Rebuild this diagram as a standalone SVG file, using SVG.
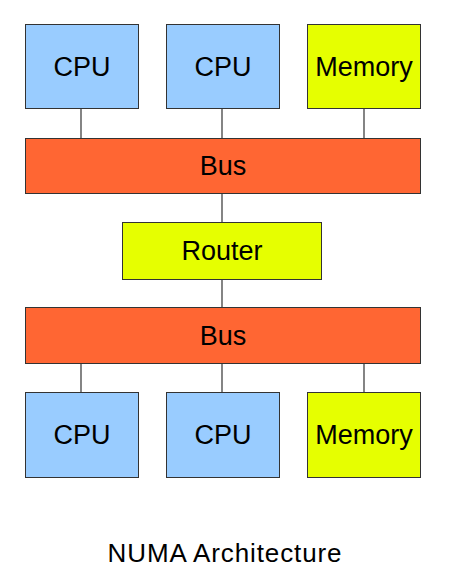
<svg xmlns="http://www.w3.org/2000/svg" width="467" height="582" viewBox="0 0 467 582">
<style>
.cpu{fill:#99ccff;stroke:#333;stroke-width:1}
.mem{fill:#e6ff00;stroke:#333;stroke-width:1}
.bus{fill:#ff6633;stroke:#333;stroke-width:1}
.lbl{font-family:"Liberation Sans",Arial,sans-serif;font-size:27px;fill:#000;text-anchor:middle;dominant-baseline:central}
.conn line{stroke:#333;stroke-width:1.2}
</style>
<rect width="467" height="582" fill="#fff"/>
<g id="connectors" class="conn">
<line x1="81" y1="108" x2="81" y2="138"/>
<line x1="222" y1="108" x2="222" y2="138"/>
<line x1="364" y1="108" x2="364" y2="138"/>
<line x1="222" y1="193" x2="222" y2="222"/>
<line x1="222" y1="279" x2="222" y2="307"/>
<line x1="81" y1="364" x2="81" y2="392"/>
<line x1="222" y1="364" x2="222" y2="392"/>
<line x1="364" y1="364" x2="364" y2="392"/>
</g>
<g id="cpu1"><rect class="cpu" x="25.5" y="24.5" width="113" height="84"/><text class="lbl" x="82" y="67">CPU</text></g>
<g id="cpu2"><rect class="cpu" x="166.5" y="24.5" width="113" height="84"/><text class="lbl" x="223" y="67">CPU</text></g>
<g id="mem1"><rect class="mem" x="307.5" y="24.5" width="113" height="84"/><text class="lbl" x="364" y="67">Memory</text></g>
<g id="bus1"><rect class="bus" x="25.5" y="138.5" width="395" height="55"/><text class="lbl" x="223" y="166">Bus</text></g>
<g id="router"><rect class="mem" x="122.5" y="222.5" width="199" height="57"/><text class="lbl" x="222" y="251">Router</text></g>
<g id="bus2"><rect class="bus" x="25.5" y="307.5" width="395" height="56"/><text class="lbl" x="223" y="336">Bus</text></g>
<g id="cpu3"><rect class="cpu" x="25.5" y="392.5" width="113" height="85"/><text class="lbl" x="82" y="435">CPU</text></g>
<g id="cpu4"><rect class="cpu" x="166.5" y="392.5" width="113" height="85"/><text class="lbl" x="223" y="435">CPU</text></g>
<g id="mem2"><rect class="mem" x="307.5" y="392.5" width="113" height="85"/><text class="lbl" x="364" y="435">Memory</text></g>
<text x="225" y="562" style="font-family:'Liberation Sans',Arial,sans-serif;font-size:26px;letter-spacing:0.9px;text-anchor:middle;fill:#000">NUMA Architecture</text>
</svg>
